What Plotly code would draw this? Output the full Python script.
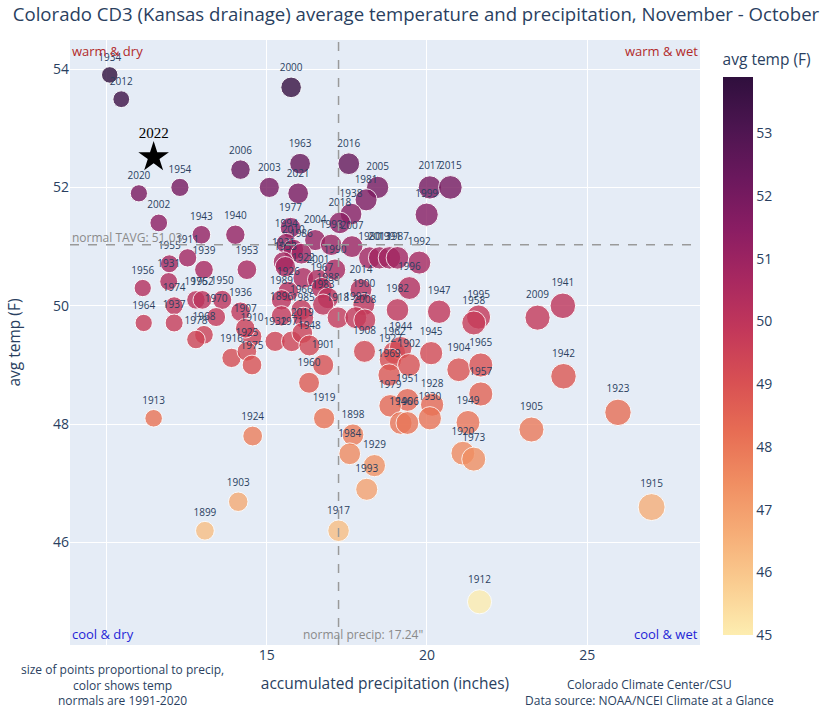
import plotly.graph_objects as go

years = [1934, 2012, 2020, 1954, 2006, 2003, 2002, 1943, 1940, 2000,
         1963, 2016, 2021, 2005, 1981, 2017, 2015, 1999, 1938, 2018,
         1977, 2004, 1998, 2007, 1994, 2010, 1986, 1921, 1933, 1922,
         2001, 1967, 1990, 2014, 1926, 1989, 1988, 1983, 1900, 1966,
         1896, 1985, 1918, 1997, 2008, 1910, 1932, 1971, 2019, 1948,
         1901, 1960, 1919, 1924, 1898, 1984, 1929, 1993, 1917, 1912,
         1915, 1913, 1903, 1899, 1955, 1911, 1931, 1939, 1953, 1956,
         1974, 1937, 1964, 1976, 1952, 1950, 1970, 1936, 1907, 1968,
         1978, 1916, 1925, 1975, 1962, 1908, 1944, 1945, 1927, 1902,
         1969, 1904, 1965, 1957, 1951, 1979, 1946, 1906, 1928, 1930,
         1949, 1920, 1973, 1995, 1958, 2009, 1941, 1942, 1923, 1905,
         1992, 1996, 1982, 1947, 1980, 2013, 1991, 1987]

precip = [10.10, 10.46, 11.01, 12.29, 14.18, 15.08, 11.63, 12.96, 14.02, 15.76,
          16.04, 17.56, 15.98, 18.46, 18.10, 20.09, 20.73, 19.99, 17.63, 17.28,
          15.74, 16.51, 17.01, 17.66, 15.61, 15.83, 16.08, 15.52, 15.58, 16.14,
          16.60, 16.72, 17.13, 17.94, 15.67, 15.46, 16.91, 16.76, 18.03, 16.08,
          15.46, 16.14, 17.22, 17.78, 18.06, 14.54, 15.26, 15.78, 16.11, 16.33,
          16.76, 16.32, 16.79, 14.56, 17.69, 17.59, 18.36, 18.12, 17.24, 21.64,
          27.01, 11.47, 14.11, 13.07, 11.96, 12.53, 11.94, 13.04, 14.38, 11.13,
          12.11, 12.11, 11.16, 12.79, 12.99, 13.61, 13.42, 14.18, 14.33, 13.04,
          12.79, 13.90, 14.38, 14.54, 18.98, 18.05, 19.18, 20.13, 18.86, 19.44,
          18.82, 20.99, 21.68, 21.68, 19.39, 18.85, 19.18, 19.39, 20.16, 20.09,
          21.28, 21.12, 21.46, 21.61, 21.46, 23.45, 24.24, 24.26, 25.96, 23.26,
          19.76, 19.45, 19.08, 20.38, 18.21, 18.52, 18.83, 19.08]

temp = [53.90, 53.49, 51.90, 52.00, 52.30, 52.00, 51.40, 51.20, 51.20, 53.69,
        52.40, 52.40, 51.90, 52.00, 51.79, 52.00, 52.00, 51.54, 51.55, 51.40,
        51.32, 51.11, 51.03, 51.00, 51.05, 50.95, 50.88, 50.74, 50.66, 50.47,
        50.44, 50.30, 50.61, 50.27, 50.24, 50.10, 50.13, 50.02, 50.02, 49.93,
        49.83, 49.80, 49.80, 49.80, 49.76, 49.48, 49.40, 49.40, 49.54, 49.33,
        49.00, 48.70, 48.10, 47.80, 47.82, 47.50, 47.30, 46.90, 46.20, 45.00,
        46.60, 48.10, 46.69, 46.20, 50.71, 50.81, 50.41, 50.61, 50.61, 50.30,
        50.00, 49.71, 49.71, 50.10, 50.10, 50.10, 49.81, 49.90, 49.62, 49.51,
        49.43, 49.12, 49.23, 49.00, 49.21, 49.23, 49.29, 49.20, 49.09, 49.00,
        48.83, 48.92, 49.00, 48.51, 48.41, 48.31, 48.02, 48.02, 48.33, 48.10,
        48.03, 47.51, 47.41, 49.81, 49.71, 49.80, 50.00, 48.81, 48.20, 47.91,
        50.73, 50.30, 49.93, 49.90, 50.81, 50.81, 50.81, 50.81]

year_2022 = [2022]
precip_2022 = [11.47]
temp_2022 = [52.51]

normal_precip = 17.24
normal_tavg = 51.03

size_max = 27
sizeref = 2.0 * max(precip) / (size_max ** 2)

fig = go.Figure()

fig.add_trace(go.Scatter(
    x=precip, y=temp, mode="markers+text",
    text=[str(y) for y in years], textposition="top center",
    textfont=dict(size=10, color="#2a3f5f"),
    marker=dict(
        size=precip, sizemode="area", sizeref=sizeref,
        color=temp, colorscale="matter", cmin=min(temp), cmax=max(temp),
        opacity=0.8, line=dict(width=1, color="white"),
        colorbar=dict(
            title=dict(text="avg temp (F)", font=dict(size=15.5, color="#2a3f5f")),
            tickfont=dict(size=14, color="#2a3f5f"),
            thickness=30, dtick=1, outlinewidth=0,
        ),
    ),
    showlegend=False, hoverinfo="skip",
))

fig.add_trace(go.Scatter(
    x=precip_2022, y=temp_2022, mode="markers+text",
    text=[str(y) for y in year_2022], textposition="top center",
    textfont=dict(size=15, color="black", family="Liberation Serif, Times New Roman, serif"),
    marker=dict(symbol="star", size=23, color="black"),
    showlegend=False, hoverinfo="skip",
))

fig.add_vline(x=normal_precip, line=dict(color="#9a9a9a", width=1.5, dash="dash"))
fig.add_hline(y=normal_tavg, line=dict(color="#9a9a9a", width=1.5, dash="dash"))

fig.add_annotation(x=normal_precip, y=0, xref="x", yref="paper", xanchor="center", yanchor="bottom",
                   xshift=24, text='normal precip: 17.24"', showarrow=False,
                   font=dict(size=12, color="#8a8a8a"))
fig.add_annotation(x=0, y=normal_tavg, xref="paper", yref="y", xanchor="left", yanchor="bottom",
                   text="normal TAVG: 51.03", showarrow=False, yshift=-3,
                   font=dict(size=12, color="#8a8a8a"))

quad = [("warm & dry", 0, 1, "left", "top", "#b22a2a"),
        ("warm & wet", 1, 1, "right", "top", "#b22a2a"),
        ("cool & dry", 0, 0, "left", "bottom", "#1f1fd6"),
        ("cool & wet", 1, 0, "right", "bottom", "#1f1fd6")]
for t, qx, qy, xa, ya, c in quad:
    fig.add_annotation(x=qx, y=qy, xref="paper", yref="paper", xanchor=xa, yanchor=ya,
                       text=t, showarrow=False, font=dict(size=13, color=c))

fig.add_annotation(x=0.083, y=-0.066, xref="paper", yref="paper", xanchor="center", yanchor="middle",
                   text="size of points proportional to precip,<br>color shows temp<br>normals are 1991-2020",
                   showarrow=False, align="center", font=dict(size=12, color="#2a3f5f"))
fig.add_annotation(x=0.92, y=-0.078, xref="paper", yref="paper", xanchor="center", yanchor="middle",
                   text="Colorado Climate Center/CSU<br>Data source: NOAA/NCEI Climate at a Glance",
                   showarrow=False, align="center", font=dict(size=12, color="#2a3f5f"))

fig.update_layout(
    width=832, height=706,
    margin=dict(l=70, r=127, t=40, b=61),
    template="plotly",
    font=dict(family="Open Sans", color="#2a3f5f"),
    title=dict(text="Colorado CD3 (Kansas drainage) average temperature and precipitation, November - October",
               x=0.5, xanchor="center", xref="container", y=0.979, yanchor="middle",
               font=dict(size=18.6, color="#2a3f5f")),
    xaxis=dict(title=dict(text="accumulated precipitation (inches)", font=dict(size=15.5)),
               range=[8.86, 28.52], tickvals=[10, 15, 20, 25], ticktext=["", "15", "20", "25"],
               tickfont=dict(size=14), zeroline=False, automargin=False),
    yaxis=dict(title=dict(text="avg temp (F)", font=dict(size=15.5), standoff=28),
               range=[44.27, 54.49], dtick=2, tickfont=dict(size=14), zeroline=False,
               automargin=False),
)

fig.write_html("out.html", config={"displayModeBar": False},
               post_script="document.body.style.margin='0';")
